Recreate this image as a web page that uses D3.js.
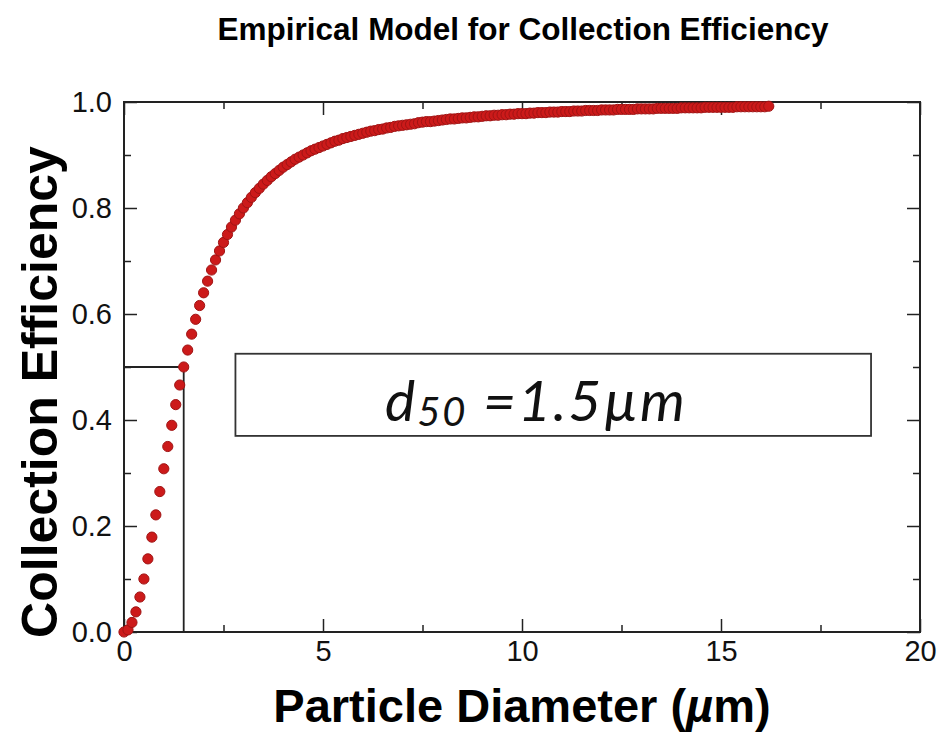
<!DOCTYPE html>
<html>
<head>
<meta charset="utf-8">
<script src="https://cdn.jsdelivr.net/npm/d3@7"></script>
<style>
  body { margin: 0; background: #fff; }
  svg { display: block; }
</style>
</head>
<body>
<script>
// Particle diameter (um) of each plotted point
var diameters = [
  0.0, 0.1, 0.2, 0.3, 0.4, 0.5, 0.6, 0.7, 0.8, 0.9,
  1.0, 1.1, 1.2, 1.3, 1.4, 1.5, 1.6, 1.7, 1.8, 1.9,
  2.0, 2.1, 2.2, 2.3, 2.4, 2.5, 2.6, 2.7, 2.8, 2.9,
  3.0, 3.1, 3.2, 3.3, 3.4, 3.5, 3.6, 3.7, 3.8, 3.9,
  4.0, 4.1, 4.2, 4.3, 4.4, 4.5, 4.6, 4.7, 4.8, 4.9,
  5.0, 5.1, 5.2, 5.3, 5.4, 5.5, 5.6, 5.7, 5.8, 5.9,
  6.0, 6.1, 6.2, 6.3, 6.4, 6.5, 6.6, 6.7, 6.8, 6.9,
  7.0, 7.1, 7.2, 7.3, 7.4, 7.5, 7.6, 7.7, 7.8, 7.9,
  8.0, 8.1, 8.2, 8.3, 8.4, 8.5, 8.6, 8.7, 8.8, 8.9,
  9.0, 9.1, 9.2, 9.3, 9.4, 9.5, 9.6, 9.7, 9.8, 9.9,
  10.0, 10.1, 10.2, 10.3, 10.4, 10.5, 10.6, 10.7, 10.8, 10.9,
  11.0, 11.1, 11.2, 11.3, 11.4, 11.5, 11.6, 11.7, 11.8, 11.9,
  12.0, 12.1, 12.2, 12.3, 12.4, 12.5, 12.6, 12.7, 12.8, 12.9,
  13.0, 13.1, 13.2, 13.3, 13.4, 13.5, 13.6, 13.7, 13.8, 13.9,
  14.0, 14.1, 14.2, 14.3, 14.4, 14.5, 14.6, 14.7, 14.8, 14.9,
  15.0, 15.1, 15.2, 15.3, 15.4, 15.5, 15.6, 15.7, 15.8, 15.9,
  16.0, 16.1, 16.2
];

// Collection efficiency for each diameter
var efficiency = [
  0.000, 0.004, 0.018, 0.038, 0.066, 0.100, 0.138, 0.179, 0.221, 0.265,
  0.308, 0.350, 0.390, 0.429, 0.466, 0.500, 0.532, 0.562, 0.590, 0.616,
  0.640, 0.662, 0.683, 0.702, 0.719, 0.735, 0.750, 0.764, 0.777, 0.789,
  0.800, 0.810, 0.820, 0.829, 0.837, 0.845, 0.852, 0.859, 0.865, 0.871,
  0.877, 0.882, 0.887, 0.892, 0.896, 0.900, 0.904, 0.908, 0.911, 0.914,
  0.917, 0.920, 0.923, 0.926, 0.928, 0.931, 0.933, 0.935, 0.937, 0.939,
  0.941, 0.943, 0.945, 0.946, 0.948, 0.949, 0.951, 0.952, 0.954, 0.955,
  0.956, 0.957, 0.958, 0.959, 0.961, 0.962, 0.963, 0.963, 0.964, 0.965,
  0.966, 0.967, 0.968, 0.968, 0.969, 0.970, 0.970, 0.971, 0.972, 0.972,
  0.973, 0.974, 0.974, 0.975, 0.975, 0.976, 0.976, 0.977, 0.977, 0.978,
  0.978, 0.978, 0.979, 0.979, 0.980, 0.980, 0.980, 0.981, 0.981, 0.981,
  0.982, 0.982, 0.982, 0.983, 0.983, 0.983, 0.984, 0.984, 0.984, 0.984,
  0.985, 0.985, 0.985, 0.985, 0.986, 0.986, 0.986, 0.986, 0.986, 0.987,
  0.987, 0.987, 0.987, 0.987, 0.988, 0.988, 0.988, 0.988, 0.988, 0.988,
  0.989, 0.989, 0.989, 0.989, 0.989, 0.989, 0.990, 0.990, 0.990, 0.990,
  0.990, 0.990, 0.990, 0.990, 0.991, 0.991, 0.991, 0.991, 0.991, 0.991,
  0.991, 0.991, 0.992
];

// Axis ticks
var xMajorTicks = [0, 5, 10, 15, 20];
var xMinorTicks = [2.5, 7.5, 12.5, 17.5];
var yMajorTicks = [0.0, 0.2, 0.4, 0.6, 0.8, 1.0];
var yMinorTicks = [0.1, 0.3, 0.5, 0.7, 0.9];

// Cut size marker and annotation box (data units)
var d50 = 1.5;
var d50Eff = 0.5;
var boxX = [2.8, 18.77];
var boxY = [0.37, 0.525];
var labelX = 10.35;

//Width and height
var width = 941;
var height = 736;

var svg = d3.select("body")
  .append("svg")
  .attr("width", width)
  .attr("height", height);

var x = d3.scaleLinear().domain([0, 20]).range([124, 920]);
var y = d3.scaleLinear().domain([0, 1]).range([632, 102]);

var sans = "'Liberation Sans', Arial, Helvetica, sans-serif";
var axisColor = "#222";

//Title
svg.append("text")
  .attr("x", 523)
  .attr("y", 40)
  .attr("text-anchor", "middle")
  .style("font-family", sans)
  .style("font-weight", "bold")
  .style("font-size", "31.5px")
  .text("Empirical Model for Collection Efficiency");

//Axes: ticks point inward on all four sides
function styleAxis(g) {
  g.select(".domain").remove();
  g.selectAll(".tick line").attr("stroke", axisColor).attr("stroke-width", 1.5);
  g.selectAll(".tick text")
    .attr("fill", "#111")
    .style("font-family", sans)
    .style("font-size", "29px");
}

svg.append("g")
  .attr("transform", "translate(0," + y(0) + ")")
  .call(d3.axisBottom(x).tickValues(xMajorTicks).tickSize(-13).tickPadding(8).tickFormat(d3.format("d")))
  .call(styleAxis);
svg.append("g")
  .attr("transform", "translate(0," + y(0) + ")")
  .call(d3.axisBottom(x).tickValues(xMinorTicks).tickSize(-7).tickFormat(""))
  .call(styleAxis);
svg.append("g")
  .attr("transform", "translate(0," + y(1) + ")")
  .call(d3.axisTop(x).tickValues(xMajorTicks).tickSize(-13).tickFormat(""))
  .call(styleAxis);
svg.append("g")
  .attr("transform", "translate(0," + y(1) + ")")
  .call(d3.axisTop(x).tickValues(xMinorTicks).tickSize(-7).tickFormat(""))
  .call(styleAxis);

svg.append("g")
  .attr("transform", "translate(" + x(0) + ",0)")
  .call(d3.axisLeft(y).tickValues(yMajorTicks).tickSize(-13).tickPadding(12).tickFormat(d3.format(".1f")))
  .call(styleAxis);
svg.append("g")
  .attr("transform", "translate(" + x(0) + ",0)")
  .call(d3.axisLeft(y).tickValues(yMinorTicks).tickSize(-7).tickFormat(""))
  .call(styleAxis);
svg.append("g")
  .attr("transform", "translate(" + x(20) + ",0)")
  .call(d3.axisRight(y).tickValues(yMajorTicks).tickSize(-13).tickFormat(""))
  .call(styleAxis);
svg.append("g")
  .attr("transform", "translate(" + x(20) + ",0)")
  .call(d3.axisRight(y).tickValues(yMinorTicks).tickSize(-7).tickFormat(""))
  .call(styleAxis);

//Plot frame
svg.append("rect")
  .attr("x", x(0))
  .attr("y", y(1))
  .attr("width", x(20) - x(0))
  .attr("height", y(0) - y(1))
  .attr("fill", "none")
  .attr("stroke", axisColor)
  .attr("stroke-width", 2);

//d50 guide lines
svg.append("path")
  .attr("d", "M" + x(0) + "," + y(d50Eff) + "H" + x(d50) + "V" + y(0))
  .attr("fill", "none")
  .attr("stroke", axisColor)
  .attr("stroke-width", 1.8);

//Data points
svg.selectAll("circle")
  .data(diameters)
  .enter()
  .append("circle")
  .attr("cx", function(d) { return x(d); })
  .attr("cy", function(d, i) { return y(efficiency[i]); })
  .attr("r", 5.1)
  .attr("fill", "#cc1a1a")
  .attr("stroke", "#a01414")
  .attr("stroke-width", 1);

//Annotation box
svg.append("rect")
  .attr("x", x(boxX[0]))
  .attr("y", y(boxY[1]))
  .attr("width", x(boxX[1]) - x(boxX[0]))
  .attr("height", y(boxY[0]) - y(boxY[1]))
  .attr("fill", "#fff")
  .attr("stroke", "#333")
  .attr("stroke-width", 1.8);

var note = svg.append("text")
  .attr("x", x(labelX))
  .attr("y", 421)
  .attr("text-anchor", "middle")
  .style("font-family", "Lato, 'Open Sans', sans-serif")
  .style("font-style", "italic")
  .style("font-size", "57px")
  .style("letter-spacing", "2px")
  .attr("fill", "#111");
note.append("tspan").text("d");
note.append("tspan").attr("dy", 5).style("font-size", "40px").text("50");
note.append("tspan").attr("dy", -5).text(" =1.5µm");

//Axis titles
svg.append("text")
  .attr("x", 522)
  .attr("y", 722)
  .attr("text-anchor", "middle")
  .style("font-family", sans)
  .style("font-weight", "bold")
  .style("font-size", "47px")
  .text("Particle Diameter (")
  .append("tspan").style("font-style", "italic").text("µ")
  .select(function() { return this.parentNode; })
  .append("tspan").text("m)");

svg.append("text")
  .attr("transform", "translate(57,392) rotate(-90)")
  .attr("text-anchor", "middle")
  .style("font-family", sans)
  .style("font-weight", "bold")
  .style("font-size", "50px")
  .text("Collection Efficiency");
</script>
</body>
</html>
